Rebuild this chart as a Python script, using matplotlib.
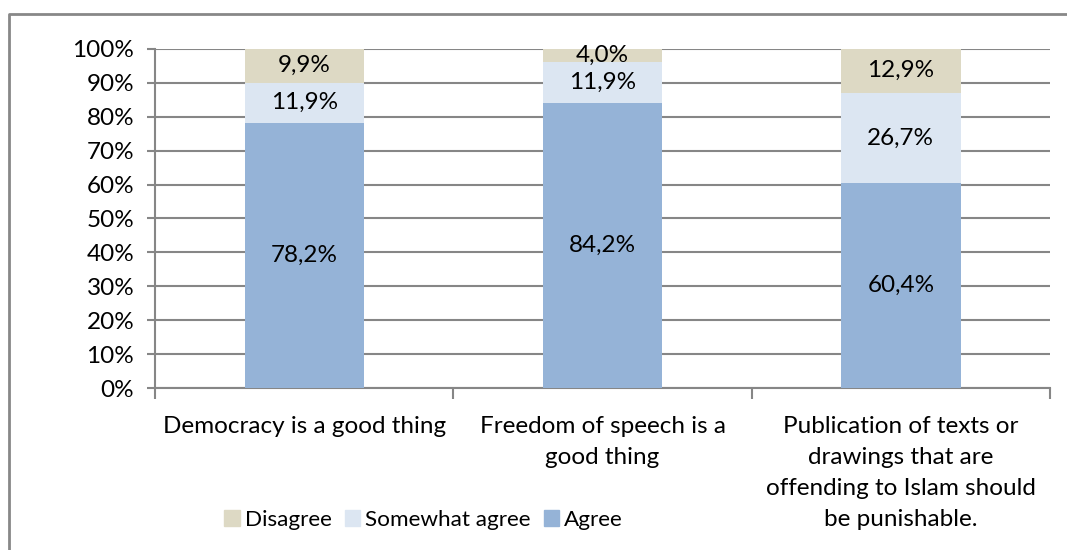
import numpy as np
import matplotlib.pyplot as plt
from matplotlib.lines import Line2D
from matplotlib.patches import Patch

plt.rcParams['font.family'] = ['Lato', 'DejaVu Sans']

# data
categories = ["Democracy is a good thing",
              "Freedom of speech is a\ngood thing",
              "Publication of texts or\ndrawings that are\noffending to Islam should\nbe punishable."]
agree = [78.2, 84.2, 60.4]
somewhat = [11.9, 11.9, 26.7]
disagree = [9.9, 4.0, 12.9]

series = [("Agree", agree, "#95B3D7"),
          ("Somewhat agree", somewhat, "#DCE6F2"),
          ("Disagree", disagree, "#DDD9C4")]

fs = 17.5
fig = plt.figure(figsize=(10.67, 5.5), dpi=100)
ax = fig.add_axes([0.1453, 0.2945, 0.8388, 0.6165])

x = np.arange(len(categories)) + 0.5
totals = np.array(agree) + np.array(somewhat) + np.array(disagree)
bottom = np.zeros(len(categories))
for name, vals, col in series:
    v = np.array(vals) / totals * 100
    ax.bar(x, v, 0.4, bottom=bottom, color=col, label=name, zorder=3)
    for xi, b, h, raw in zip(x, bottom, v, vals):
        ax.text(xi, b + h / 2, f"{raw:.1f}%".replace(".", ","),
                ha="center", va="center", fontsize=fs, zorder=4)
    bottom += v

grid_col = "#868686"
ax.set_xlim(0, 3)
ax.set_ylim(0, 100)
ax.set_yticks(np.arange(0, 101, 10))
ax.set_yticklabels([f"{t}%" for t in range(0, 101, 10)], fontsize=fs)
ax.yaxis.grid(True, color=grid_col, linewidth=1.5, zorder=0)
ax.tick_params(axis="y", length=6, width=1.5, color=grid_col, pad=9)

ax.set_xticks([0, 1, 2, 3])
ax.set_xticklabels([])
ax.tick_params(axis="x", which="major", length=8, width=1.5, color=grid_col)
ax.set_xticks(x, minor=True)
ax.set_xticklabels(categories, minor=True, fontsize=fs, linespacing=1.6, va="top")
ax.tick_params(axis="x", which="minor", length=0, pad=20)

for s in ["top", "right"]:
    ax.spines[s].set_visible(False)
for s in ["left", "bottom"]:
    ax.spines[s].set_color(grid_col)
    ax.spines[s].set_linewidth(1.5)

handles = [Patch(color=c, label=n) for n, _, c in series[::-1]]
fig.legend(handles=handles, loc="center", bbox_to_anchor=(0.397, 0.0545), ncol=3,
           frameon=False, fontsize=16.2, handlelength=0.67, handleheight=0.67,
           handletextpad=0.22, columnspacing=0.6)

# outer chart border (open to the right and bottom)
fig.add_artist(Line2D([0.0085, 0.0085, 1.0], [0.0, 0.9745, 0.9745],
                      transform=fig.transFigure, color="#888888", linewidth=2))

fig.savefig("out.png", dpi=100)
